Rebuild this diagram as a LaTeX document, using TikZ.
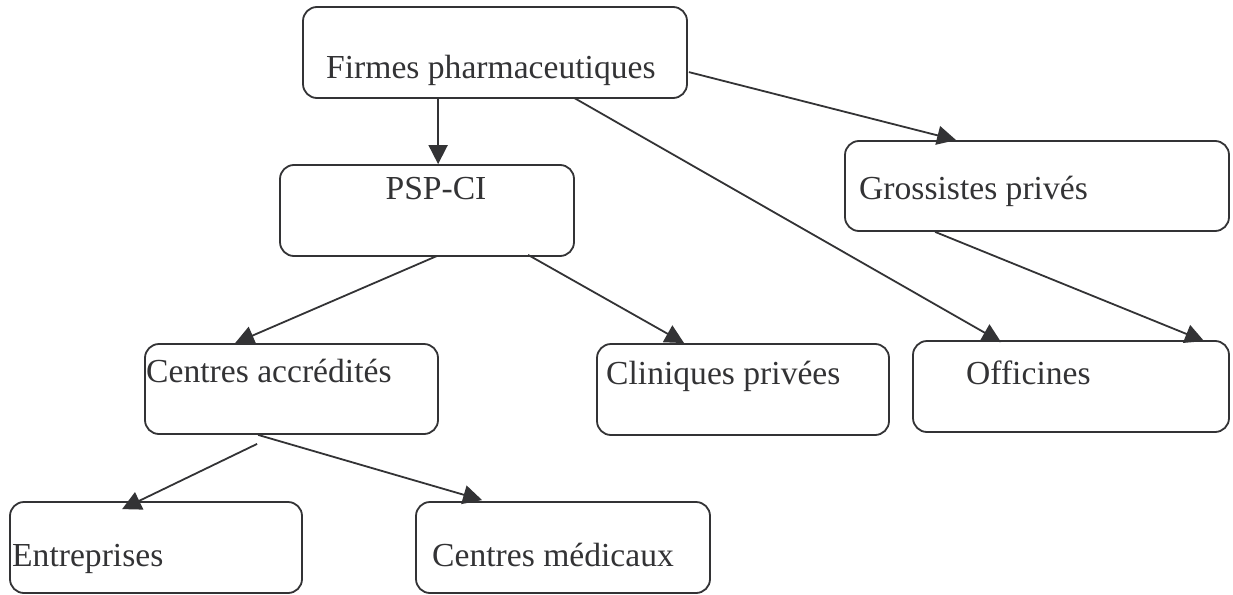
\documentclass[tikz,border=0pt]{standalone}
\usetikzlibrary{arrows.meta,calc}
% Palatino where available, otherwise a Times-metric serif
\newif\ifpalatino
\IfFileExists{mathpazo.sty}{\IfFileExists{pplr8t.tfm}{\palatinotrue}{}}{}
\ifpalatino
  \usepackage[T1]{fontenc}
  \usepackage{mathpazo}
  \newcommand{\lblsize}{\fontsize{30.4}{36}\selectfont}
\else
  \usepackage{fontspec}
  \setmainfont{Liberation Serif}
  \newcommand{\lblsize}{\fontsize{33.6}{38}\selectfont}
\fi
\definecolor{ink}{RGB}{51,51,53}
\begin{document}
\begin{tikzpicture}[x=1pt,y=-1pt,
  box/.style={draw=ink,line width=1.8pt,rounded corners=14pt,inner sep=0pt,rectangle},
  lbl/.style={inner sep=0pt,anchor=base west,text=ink,font=\lblsize},
  link/.style={draw=ink,line width=1.8pt,-{Triangle[length=19pt,width=19pt]}}]
\useasboundingbox (0,0) rectangle (1233,594);

% boxes
\node[box,minimum width=384pt,minimum height=91pt] (firmes) at (495,52.5) {};
\node[box,minimum width=294pt,minimum height=91pt] (psp) at (427,210.5) {};
\node[box,minimum width=384pt,minimum height=90pt] (gross) at (1037,186) {};
\node[box,minimum width=293pt,minimum height=90pt] (cacc) at (291.5,389) {};
\node[box,minimum width=292pt,minimum height=91pt] (clin) at (743,389.5) {};
\node[box,minimum width=316pt,minimum height=91pt] (offic) at (1071,386.5) {};
\node[box,minimum width=292pt,minimum height=91pt] (entr) at (156,547.5) {};
\node[box,minimum width=294pt,minimum height=91pt] (med) at (563,547.5) {};

% labels
\node[lbl] (tfirmes) at (326,78) {Firmes pharmaceutiques};
\node[lbl,anchor=base] (tpsp) at (436,199) {PSP-CI};
\node[lbl] (tgross) at (859,199) {Grossistes priv\'es};
\node[lbl] (tcacc) at (146,382) {Centres accr\'edit\'es};
\node[lbl] (tclin) at (606,384) {Cliniques priv\'ees};
\node[lbl] (toffic) at (966,384) {Officines};
\node[lbl] (tentr) at (12,566) {Entreprises};
\node[lbl] (tmed) at (432,566) {Centres m\'edicaux};

% connectors
\draw[link] ($(firmes.south west)+(136,0)$) -- ($(psp.north west)+(159,0)$);
\draw[link] ($(firmes.north east)+(1,66)$) -- ($(gross.north west)+(112,0)$);
\draw[link] ($(firmes.south west)+(272,-1)$) -- ($(offic.north west)+(89,2)$);
\draw[link] ($(gross.south west)+(91,0)$) -- ($(offic.north west)+(292,1)$);
\draw[link] ($(psp.south west)+(158,-1)$) -- ($(cacc.north west)+(91,0)$);
\draw[link] ($(psp.south west)+(249,-2)$) -- ($(clin.north west)+(88,0)$);
\draw[link] ($(cacc.south west)+(113,9)$) -- ($(entr.north west)+(113,8)$);
\draw[link] ($(cacc.south west)+(114,0)$) -- ($(med.north west)+(67,-1)$);
\end{tikzpicture}
\end{document}
